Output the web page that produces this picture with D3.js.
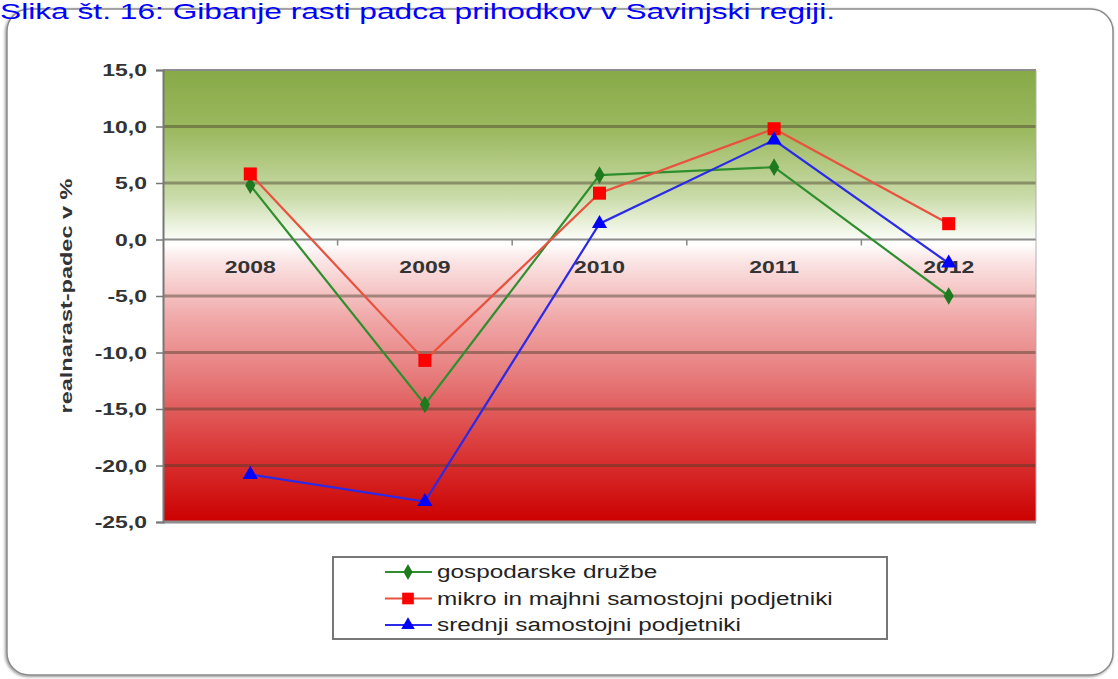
<!DOCTYPE html>
<html><head><meta charset="utf-8">
<script src="https://cdn.jsdelivr.net/npm/d3@7"></script>
<style>body{margin:0;background:#fff;overflow:hidden}svg{display:block}</style>
</head><body>
<svg id="c" width="1118" height="679"></svg>
<script>
const titleText = "Slika št. 16: Gibanje rasti padca prihodkov v Savinjski regiji.";
const categories = ["2008","2009","2010","2011","2012"];
const yTicks = [15,10,5,0,-5,-10,-15,-20,-25];
const yTitle = "realnarast-padec v %";
const seriesNames = ["gospodarske družbe","mikro in majhni samostojni podjetniki","srednji samostojni podjetniki"];
const gospodarske = [4.8,-14.6,5.7,6.4,-5.0];
const mikro = [5.8,-10.7,4.1,9.8,1.4];
const srednji = [-20.8,-23.2,1.4,8.8,-2.1];

const series = [
  {name:seriesNames[0], values:gospodarske, line:"#2f8f2f", fill:"#1f7a1f", sym:d3.symbolDiamond, size:90},
  {name:seriesNames[1], values:mikro, line:"#e8523e", fill:"#ff0000", sym:d3.symbolSquare, size:170},
  {name:seriesNames[2], values:srednji, line:"#2a2ae8", fill:"#0000ff", sym:d3.symbolTriangle, size:100}
];
const FONT = "Liberation Sans, Arial, sans-serif";
const STRETCH = 1.35;
function stretch(sel){ sel.each(function(){ const w=this.getComputedTextLength(); d3.select(this).attr("textLength",w*STRETCH).attr("lengthAdjust","spacingAndGlyphs"); }); }

const svg = d3.select("#c");
const L=163, R=1036, T=70, B=522;
const x = d3.scaleBand().domain(categories).range([L,R]);
const y = d3.scaleLinear().domain([-25,15]).range([B,T]);

// frame
const defs = svg.append("defs");
const f = defs.append("filter").attr("id","sh").attr("x","-5%").attr("y","-5%").attr("width","110%").attr("height","110%");
f.append("feDropShadow").attr("dx",-1).attr("dy",1).attr("stdDeviation",1.5).attr("flood-color","#000").attr("flood-opacity",0.45);
svg.append("rect").attr("x",7).attr("y",9).attr("width",1106).attr("height",666).attr("rx",22)
  .attr("fill","#fff").attr("stroke","#8a8a8a").attr("stroke-width",1.5).attr("filter","url(#sh)");

// title
svg.append("text").attr("x",0).attr("y",19).attr("fill","#0000ff")
  .attr("font-family",FONT).attr("font-size",22).attr("textLength",835).attr("lengthAdjust","spacingAndGlyphs").text(titleText);

// background gradient
const g = defs.append("linearGradient").attr("id","bg").attr("x1",0).attr("y1",0).attr("x2",0).attr("y2",1);
[[0,"#87a946"],[0.14,"#9dba62"],[0.28,"#c9dba8"],[0.36,"#f4f8ec"],[0.385,"#ffffff"],[0.42,"#fbe6e6"],[0.55,"#f0a8a8"],[0.68,"#e67a7a"],[0.82,"#dc4040"],[1,"#cc0000"]]
  .forEach(s=>g.append("stop").attr("offset",s[0]).attr("stop-color",s[1]));
svg.append("rect").attr("x",L).attr("y",T).attr("width",R-L).attr("height",B-T).attr("fill","url(#bg)");

// gridlines
svg.append("g").selectAll("line").data(yTicks).join("line")
  .attr("x1",L).attr("x2",R).attr("y1",d=>y(d)).attr("y2",d=>y(d))
  .attr("stroke",d=>d===15||d===0||d===-25?"#8c8c8c":"rgba(70,60,40,0.45)")
  .attr("stroke-width",d=>d===15||d===0?2:3);
svg.append("line").attr("x1",R).attr("x2",R).attr("y1",T).attr("y2",B).attr("stroke","#b0b0b0").attr("stroke-width",1);

// y axis
const yAxis = d3.axisLeft(y).tickValues(yTicks).tickSize(7).tickFormat(d=>d3.format(".1f")(d).replace(".",",").replace("−","-"));
const ya = svg.append("g").attr("transform",`translate(${L},0)`).call(yAxis);
ya.select(".domain").attr("stroke","#777").attr("stroke-width",2);
ya.selectAll(".tick line").attr("stroke","#777").attr("stroke-width",1.5);
ya.selectAll("text").attr("font-family",FONT).attr("font-size",17).attr("font-weight","bold").attr("fill","#333").attr("x",-16).attr("dy","0.35em").call(stretch);

// x axis at 0
const xAxis = d3.axisBottom(x).tickSize(0).tickPadding(21);
const xa = svg.append("g").attr("transform",`translate(0,${y(0)})`).call(xAxis);
xa.select(".domain").remove();
xa.selectAll("text").attr("font-family",FONT).attr("font-size",17).attr("font-weight","bold").attr("fill","#333").call(stretch);
svg.append("g").selectAll("line").data(categories.slice(1)).join("line")
  .attr("x1",d=>x(d)).attr("x2",d=>x(d)).attr("y1",y(0)).attr("y2",y(0)+6).attr("stroke","#888").attr("stroke-width",1.5);

// y title
svg.append("text").attr("transform","translate(72,296) rotate(-90)").attr("text-anchor","middle")
  .attr("font-family",FONT).attr("font-size",17).attr("font-weight","bold").attr("fill","#333")
  .attr("textLength",235).attr("lengthAdjust","spacingAndGlyphs").text(yTitle);

// lines
const line = d3.line().x((d,i)=>x(categories[i])+x.bandwidth()/2).y(d=>y(d));
series.forEach(s=>{
  svg.append("path").datum(s.values).attr("d",line).attr("fill","none").attr("stroke",s.line).attr("stroke-width",2.2);
});
series.forEach(s=>{
  svg.append("g").selectAll("path").data(s.values).join("path")
    .attr("d",d3.symbol().type(s.sym).size(s.size))
    .attr("transform",(d,i)=>`translate(${x(categories[i])+x.bandwidth()/2},${y(d)})`)
    .attr("fill",s.fill);
});

// legend
const lg = svg.append("g");
lg.append("rect").attr("x",333).attr("y",557).attr("width",554).attr("height",82).attr("fill","#fff").attr("stroke","#777").attr("stroke-width",2);
series.forEach((s,i)=>{
  const yy = 572 + i*26.5;
  lg.append("line").attr("x1",385).attr("x2",432).attr("y1",yy).attr("y2",yy).attr("stroke",s.line).attr("stroke-width",2);
  lg.append("path").attr("d",d3.symbol().type(s.sym).size(s.size*0.8)).attr("transform",`translate(408,${yy})`).attr("fill",s.fill);
  lg.append("text").attr("x",437).attr("y",yy+6).attr("font-family",FONT).attr("font-size",18).attr("fill","#222").text(s.name).call(stretch);
});
</script>
</body></html>
